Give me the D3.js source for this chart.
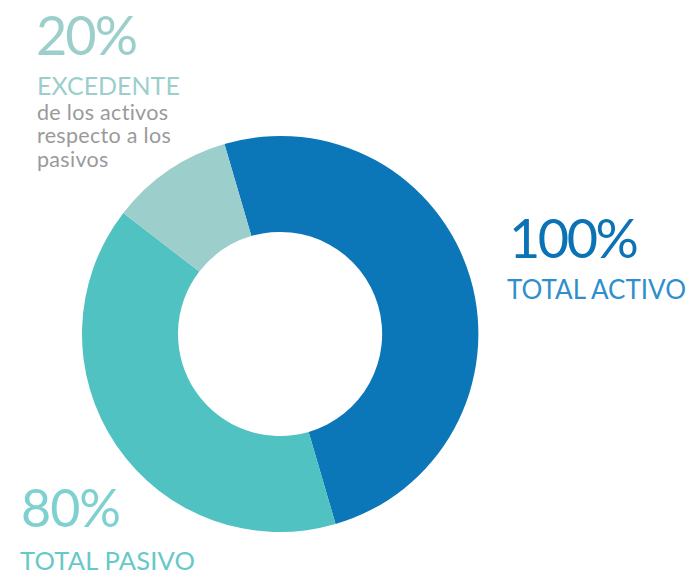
<!DOCTYPE html>
<html><head><meta charset="utf-8">
<script src="https://cdn.jsdelivr.net/npm/d3@7"></script>
<style>body{margin:0;background:#fff}svg{display:block}text{font-family:Lato,"Open Sans",sans-serif}</style>
</head><body><svg id="c" width="689" height="575"></svg>
<script>
const categories = ["TOTAL ACTIVO", "TOTAL PASIVO", "EXCEDENTE"];
const values = [100, 80, 20];
const percentLabels = ["100%", "80%", "20%"];
const colors = ["#0b76b8", "#4fc2c1", "#9ccfcb"];
const subText = ["de los activos", "respecto a los", "pasivos"];

const svg = d3.select("#c");
const cx = 280, cy = 334, rOut = 198, rIn = 102;
const start = -16.3 * Math.PI / 180;
const pie = d3.pie().sort(null).startAngle(start).endAngle(start + 2 * Math.PI);
const arc = d3.arc().innerRadius(rIn).outerRadius(rOut);
svg.append("g").attr("transform", `translate(${cx},${cy})`)
  .selectAll("path").data(pie(values)).join("path")
  .attr("d", arc).attr("fill", (d, i) => colors[i]);

// 20% excedente
svg.append("text").attr("x", 36).attr("y", 55).attr("font-size", 54).attr("letter-spacing", -2)
  .attr("fill", "#9ccfcb").text(percentLabels[2]);
svg.append("text").attr("x", 37).attr("y", 95).attr("font-size", 25)
  .attr("fill", "#9ccfcb").text(categories[2]);
svg.selectAll("text.sub").data(subText).join("text").attr("class", "sub")
  .attr("x", 37).attr("y", (d, i) => 120 + i * 23.3).attr("font-size", 21.5).attr("letter-spacing", 0.3)
  .attr("fill", "#9a9a9a").text(d => d);

// 100% activo
svg.append("text").attr("x", 509).attr("y", 258).attr("font-size", 54).attr("letter-spacing", -2.5)
  .attr("fill", "#0b72b5").text(percentLabels[0]);
svg.append("text").attr("x", 507).attr("y", 299).attr("font-size", 26)
  .attr("fill", "#2f8fcd").text(categories[0]);

// 80% pasivo
svg.append("text").attr("x", 21).attr("y", 527).attr("font-size", 52).attr("letter-spacing", -1)
  .attr("fill", "#7fd1d1").text(percentLabels[1]);
svg.append("text").attr("x", 20).attr("y", 570).attr("font-size", 25.5).attr("letter-spacing", 0.2)
  .attr("fill", "#66c9c8").text(categories[1]);
</script></body></html>
